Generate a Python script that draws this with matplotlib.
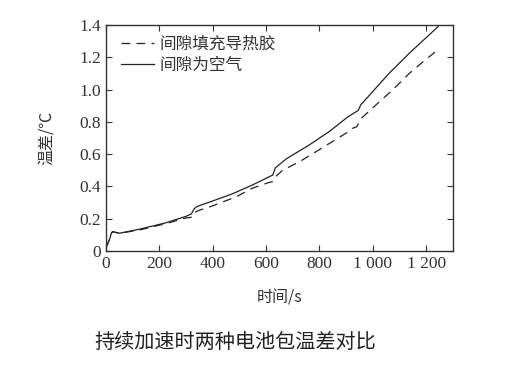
import matplotlib
matplotlib.use("Agg")
import matplotlib.pyplot as plt

# gap filled with air (solid)
t_air = [0, 5, 10, 15, 20, 25, 50, 125, 225, 300, 320, 330, 340, 400, 475, 550,
         618, 625, 635, 675, 762, 837, 906, 935, 945, 955, 1061, 1137, 1245]
dT_air = [0.02, 0.04, 0.06, 0.08, 0.11, 0.12, 0.11, 0.135, 0.175, 0.215, 0.23, 0.26,
          0.275, 0.31, 0.355, 0.41, 0.465, 0.47, 0.515, 0.57, 0.657, 0.74, 0.83,
          0.86, 0.87, 0.905, 1.10, 1.225, 1.39]

# gap filled with thermal glue (dashed)
t_glue = [0, 5, 10, 15, 20, 25, 50, 125, 225, 300, 325, 335, 345, 400, 488, 550,
          612, 625, 635, 662, 725, 787, 900, 924, 940, 956, 1012, 1074, 1137, 1187, 1243]
dT_glue = [0.02, 0.04, 0.06, 0.08, 0.11, 0.12, 0.11, 0.13, 0.17, 0.205, 0.21, 0.24,
           0.25, 0.28, 0.336, 0.39, 0.425, 0.43, 0.46, 0.50, 0.553, 0.615, 0.73,
           0.76, 0.77, 0.82, 0.905, 0.997, 1.10, 1.17, 1.245]

xticks = [0, 200, 400, 600, 800, 1000, 1200]
xticklabels = ["0", "200", "400", "600", "800", "1 000", "1 200"]
yticks = [0, 0.2, 0.4, 0.6, 0.8, 1.0, 1.2, 1.4]
yticklabels = ["0", "0.2", "0.4", "0.6", "0.8", "1.0", "1.2", "1.4"]

cjk = ["Noto Sans CJK SC", "DejaVu Sans"]
serif = "Liberation Serif"

fig = plt.figure(figsize=(5.13, 3.73), dpi=100)
ax = fig.add_axes([0.2066, 0.327, 0.676, 0.606])

ax.plot(t_glue, dT_glue, color="#222222", lw=0.9, dashes=(7, 5), label="间隙填充导热胶")
ax.plot(t_air, dT_air, color="#222222", lw=0.9, label="间隙为空气")

ax.set_xlim(0, 1300)
ax.set_ylim(0, 1.4)
ax.set_xticks(xticks)
ax.set_xticklabels(xticklabels, family=serif, fontsize=12.5)
ax.set_yticks(yticks)
ax.set_yticklabels(yticklabels, family=serif, fontsize=12.5)
ax.tick_params(direction="in", top=True, right=True, length=4, width=0.8, colors="#333333")
for s in ax.spines.values():
    s.set_color("#333333")
    s.set_linewidth(1.0)

ax.set_xlabel("时间/s", family=cjk, fontsize=11.5, color="#333333", labelpad=13)
ax.set_ylabel("温差/℃", family=cjk, fontsize=11.5, color="#333333", labelpad=17)

leg = ax.legend(loc="upper left", bbox_to_anchor=(0.0, 1.02), frameon=False,
                prop={"family": cjk, "size": 12}, handlelength=2.0,
                handletextpad=0.3, labelspacing=0.25)
for txt in leg.get_texts():
    txt.set_color("#333333")

fig.text(0.185, 0.068, "持续加速时两种电池包温差对比", family=cjk, fontsize=14.5, color="#222222")

fig.savefig("out.png", dpi=100)
plt.close(fig)
